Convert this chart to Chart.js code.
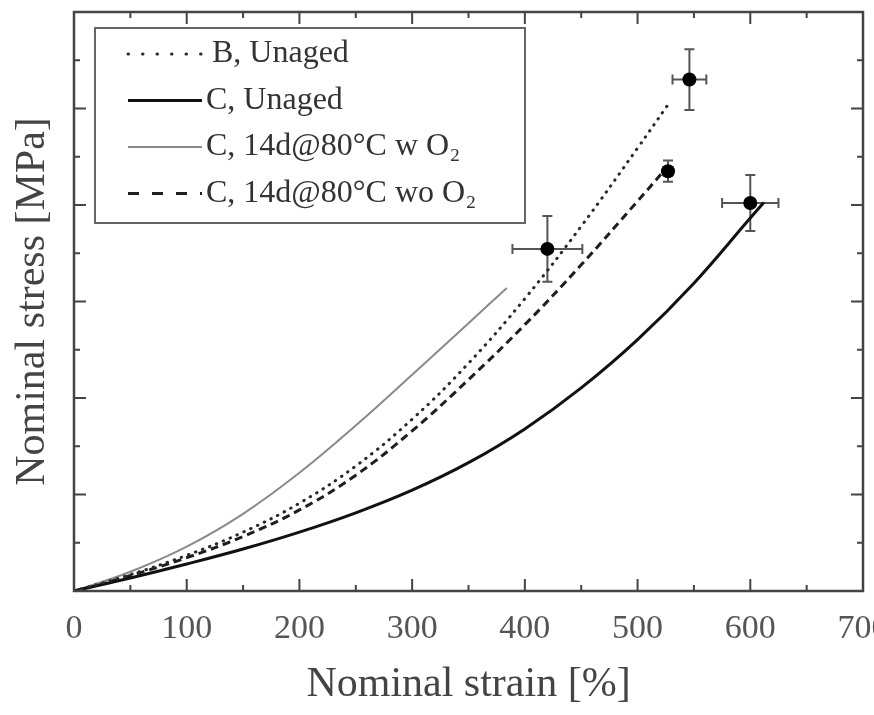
<!DOCTYPE html>
<html><head><meta charset="utf-8">
<script src="https://cdn.jsdelivr.net/npm/chart.js@4.4.0/dist/chart.umd.min.js"></script>
<style>html,body{margin:0;padding:0;background:#fff;overflow:hidden}#wrap{width:874px;height:715px}</style>
</head><body><div id="wrap"><canvas id="c" width="874" height="715"></canvas></div>
<script>
// ---- data (strain in %, stress in axis-tick units; y axis carries no numbers) ----
const strainB   = [0, 50, 100, 150, 200, 250, 300, 350, 400, 450, 500, 527];
const stressB   = [0, 0.34, 0.74, 1.22, 1.82, 2.59, 3.56, 4.72, 6.06, 7.56, 9.18, 10.08];
const strainC   = [0, 50, 100, 150, 200, 250, 300, 350, 400, 450, 500, 550, 600, 612];
const stressC   = [0, 0.27, 0.56, 0.87, 1.22, 1.62, 2.09, 2.66, 3.36, 4.21, 5.21, 6.38, 7.73, 8.05];
const strainCw  = [0, 50, 100, 150, 200, 250, 300, 350, 384];
const stressCw  = [0, 0.4, 0.92, 1.6, 2.45, 3.43, 4.48, 5.55, 6.28];
const strainCwo = [0, 50, 100, 150, 200, 250, 300, 350, 400, 450, 500, 522];
const stressCwo = [0, 0.32, 0.69, 1.13, 1.68, 2.4, 3.32, 4.38, 5.52, 6.76, 8.08, 8.67];
const seriesLabels = ['B, Unaged', 'C, Unaged', 'C, 14d@80°C w O\u2082', 'C, 14d@80°C wo O\u2082'];
// break points with error bars
const breakStrain    = [546, 527, 600, 420];
const breakStress    = [10.6, 8.7, 8.04, 7.09];
const breakStrainErr = [15, 4, 25, 31];
const breakStressErr = [0.63, 0.22, 0.58, 0.68];
// axes
const xMin = 0, xMax = 700, xStep = 100, xMinorStep = 50;
const yMin = 0, yMax = 12, yStep = 1;
const xTitle = 'Nominal strain [%]';
const yTitle = 'Nominal stress [MPa]';

const toXY = (xs, ys) => xs.map((x, i) => ({x: x, y: ys[i]}));
const FONT = "'Liberation Serif', 'DejaVu Serif', serif";

const styles = [
  {borderColor: '#2a2a2a', borderWidth: 3, borderDash: [0.5, 7], borderCapStyle: 'round', legendDash: [0.5, 14]},
  {borderColor: '#111111', borderWidth: 3, borderDash: [], borderCapStyle: 'butt', legendDash: []},
  {borderColor: '#8a8a8a', borderWidth: 2, borderDash: [], borderCapStyle: 'butt', legendDash: []},
  {borderColor: '#1e1e1e', borderWidth: 3, borderDash: [8, 5], borderCapStyle: 'butt', legendDash: [11, 13]}
];
const curves = [toXY(strainB, stressB), toXY(strainC, stressC), toXY(strainCw, stressCw), toXY(strainCwo, stressCwo)];

const datasets = curves.map((d, i) => ({
  label: seriesLabels[i], data: d, showLine: true, fill: false, pointRadius: 0,
  tension: 0.4,
  borderColor: styles[i].borderColor, borderWidth: styles[i].borderWidth,
  borderDash: styles[i].borderDash, borderCapStyle: styles[i].borderCapStyle,
  legendDash: styles[i].legendDash
}));
datasets.push({
  label: 'break', data: toXY(breakStrain, breakStress), showLine: false,
  pointRadius: 7, pointBackgroundColor: '#000', pointBorderColor: '#000', pointBorderWidth: 0,
  isBreak: true
});

const framePlugin = {
  id: 'frame',
  beforeDatasetsDraw(chart) {
    const ctx = chart.ctx, xs = chart.scales.x, ys = chart.scales.y;
    ctx.save();
    ctx.strokeStyle = '#555'; ctx.lineWidth = 2;
    breakStrain.forEach((sx, i) => {
      const px = xs.getPixelForValue(sx), py = ys.getPixelForValue(breakStress[i]);
      const x1 = xs.getPixelForValue(sx - breakStrainErr[i]), x2 = xs.getPixelForValue(sx + breakStrainErr[i]);
      const y1 = ys.getPixelForValue(breakStress[i] - breakStressErr[i]), y2 = ys.getPixelForValue(breakStress[i] + breakStressErr[i]);
      const cap = 5;
      ctx.beginPath();
      ctx.moveTo(x1, py); ctx.lineTo(x2, py);
      ctx.moveTo(x1, py - cap); ctx.lineTo(x1, py + cap);
      ctx.moveTo(x2, py - cap); ctx.lineTo(x2, py + cap);
      ctx.moveTo(px, y1); ctx.lineTo(px, y2);
      ctx.moveTo(px - cap, y1); ctx.lineTo(px + cap, y1);
      ctx.moveTo(px - cap, y2); ctx.lineTo(px + cap, y2);
      ctx.stroke();
    });
    ctx.restore();
  },
  afterDraw(chart) {
    const ctx = chart.ctx, a = chart.chartArea, xs = chart.scales.x, ys = chart.scales.y;
    ctx.save();
    ctx.strokeStyle = '#444'; ctx.lineWidth = 2.5;
    ctx.strokeRect(a.left, a.top, a.right - a.left, a.bottom - a.top);
    ctx.lineWidth = 2;
    ctx.beginPath();
    for (let v = xMin; v <= xMax; v += xMinorStep) {
      const px = xs.getPixelForValue(v);
      const len = (v % xStep === 0) ? 12 : 6;
      ctx.moveTo(px, a.bottom); ctx.lineTo(px, a.bottom - len);
      ctx.moveTo(px, a.top); ctx.lineTo(px, a.top + len);
    }
    for (let v = yMin; v <= yMax; v += yStep) {
      const py = ys.getPixelForValue(v);
      const len = (v % 2 === 0) ? 12 : 6;
      ctx.moveTo(a.left, py); ctx.lineTo(a.left + len, py);
      ctx.moveTo(a.right, py); ctx.lineTo(a.right - len, py);
    }
    ctx.stroke();
    // legend box
    ctx.strokeStyle = '#666'; ctx.lineWidth = 2;
    ctx.strokeRect(95, 28, 430, 195);
    ctx.font = '32px ' + FONT;
    ctx.textBaseline = 'middle';
    ctx.fillStyle = '#333';
    chart.data.datasets.forEach((ds, i) => {
      if (ds.isBreak) return;
      const y = 54 + i * 46.5;
      ctx.save();
      ctx.strokeStyle = ds.borderColor; ctx.lineWidth = ds.borderWidth;
      ctx.setLineDash(ds.legendDash); ctx.lineCap = ds.borderCapStyle;
      ctx.beginPath(); ctx.moveTo(128, y); ctx.lineTo(202, y); ctx.stroke();
      ctx.restore();
      ctx.fillText(ds.label, i === 0 ? 212 : 206, y);
    });
    ctx.restore();
  }
};

new Chart(document.getElementById('c'), {
  type: 'line',
  data: {datasets: datasets},
  plugins: [framePlugin],
  options: {
    responsive: false, animation: false, devicePixelRatio: 1,
    layout: {padding: {top: 12, right: 11, left: 0, bottom: 0}},
    plugins: {legend: {display: false}, tooltip: {enabled: false}},
    scales: {
      x: {
        type: 'linear', min: xMin, max: xMax,
        grid: {display: false}, border: {display: false},
        ticks: {stepSize: xStep, color: '#555', padding: 10, font: {family: FONT, size: 34}, maxRotation: 0, autoSkip: false},
        title: {display: true, text: xTitle, color: '#444', font: {family: FONT, size: 42}, padding: {top: 0, bottom: 5}},
        afterFit(s) { s.height = 124; s.paddingLeft = 0; s.paddingRight = 0; }
      },
      y: {
        type: 'linear', min: yMin, max: yMax,
        grid: {display: false}, border: {display: false},
        ticks: {display: false, stepSize: yStep},
        title: {display: true, text: yTitle, color: '#444', font: {family: FONT, size: 42}, padding: {top: 8, bottom: 0}},
        afterFit(s) { s.width = 74; s.paddingTop = 0; s.paddingBottom = 0; }
      }
    }
  }
});
</script></body></html>
